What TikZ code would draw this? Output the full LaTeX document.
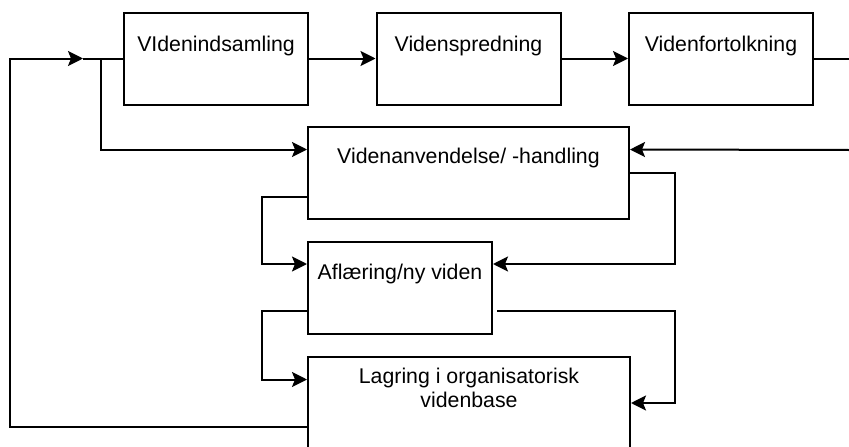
\documentclass[tikz,border=0pt]{standalone}
\usepackage{fontspec}
\setmainfont{Liberation Sans}
\usetikzlibrary{arrows.meta,calc}

\tikzset{
  box/.style={draw, line width=2pt, minimum height=92pt, inner sep=0pt, fill=white},
  boxS/.style={box, minimum width=184pt},
  boxL/.style={box, minimum width=321pt},
  txt/.style={inner sep=0pt, align=center, font=\fontsize{21.3}{24.7}\selectfont},
  wire/.style={line width=2pt, line join=miter},
  flow/.style={wire, -{Stealth[length=15pt, width=15pt, inset=3pt]}}
}

\begin{document}
\begin{tikzpicture}[x=1pt, y=-1pt]
  \useasboundingbox (0,0) rectangle (849,447);

  % process boxes
  \node[boxS] (b1) at (216,58.5)   {};
  \node[boxS] (b2) at (468.5,58.5) {};
  \node[boxS] (b3) at (721,58.5)   {};
  \node[boxL] (b4) at (468.5,173)  {};
  \node[boxS] (b5) at (400,287.5)  {};
  \node[box, minimum width=322pt] (b6) at (469,403) {};

  % box labels, set near the top of each box
  \node[txt] (t1) at ([yshift=-34pt]b1.north) {VIdenindsamling};
  \node[txt] (t2) at ([yshift=-34pt]b2.north) {Videnspredning};
  \node[txt] (t3) at ([yshift=-34pt]b3.north) {Videnfortolkning};
  \node[txt] (t4) at ([yshift=-32pt]b4.north) {Videnanvendelse/ -handling};
  \node[txt] (t5) at ([yshift=-33pt]b5.north) {Aflæring/ny viden};
  \node[txt] (t6) at ([yshift=-32pt]b6.north) {Lagring i organisatorisk\\videnbase};

  % attachment points on the box sides
  \coordinate (b4wA) at ($(b4.north west)!0.25!(b4.south west)$);
  \coordinate (b4wB) at ($(b4.north west)!0.75!(b4.south west)$);
  \coordinate (b4eA) at ($(b4.north east)!0.25!(b4.south east)$);
  \coordinate (b5wA) at ($(b5.north west)!0.25!(b5.south west)$);
  \coordinate (b5wB) at ($(b5.north west)!0.75!(b5.south west)$);
  \coordinate (b5eA) at ($(b5.north east)!0.25!(b5.south east)$);
  \coordinate (b5eB) at ([xshift=4pt]$(b5.north east)!0.75!(b5.south east)$);
  \coordinate (b6wA) at ($(b6.north west)!0.25!(b6.south west)$);
  \coordinate (b6wB) at ($(b6.north west)!0.75!(b6.south west)$);

  % routing rails and free ends
  \coordinate (outR)  at (849,58.5);
  \coordinate (inR)   at (849,150);
  \coordinate (railL) at (10,0);
  \coordinate (railM) at (262,0);
  \coordinate (railR) at (675,0);
  \coordinate (tipA)  at (83,58.5);
  \coordinate (fork)  at (101,58.5);

  % top chain
  \draw[flow] (b1.east) -- (b2.west);
  \draw[flow] (b2.east) -- (b3.west);
  \draw[wire] (b3.east) -- (outR);
  \draw[flow] (inR) -- (b4eA);

  % application to unlearning
  \draw[flow] (b4.east) -- (b4.east -| railR) -- (b5eA -| railR) -- (b5eA);
  \draw[flow] (b4wB) -- (b4wB -| railM) -- (b5wA -| railM) -- (b5wA);

  % unlearning to storage
  \draw[flow] (b5wB) -- (b5wB -| railM) -- (b6wA -| railM) -- (b6wA);
  \draw[flow] (b5eB) -- (b5eB -| railR) -- (b6.east -| railR) -- (b6.east);

  % feedback from storage to collection
  \draw[flow] (b6wB) -- (b6wB -| railL) -- (tipA -| railL) -- (tipA);
  \draw[wire] (tipA) -- (b1.west);
  \draw[flow] (fork) |- (b4wA);
\end{tikzpicture}
\end{document}
